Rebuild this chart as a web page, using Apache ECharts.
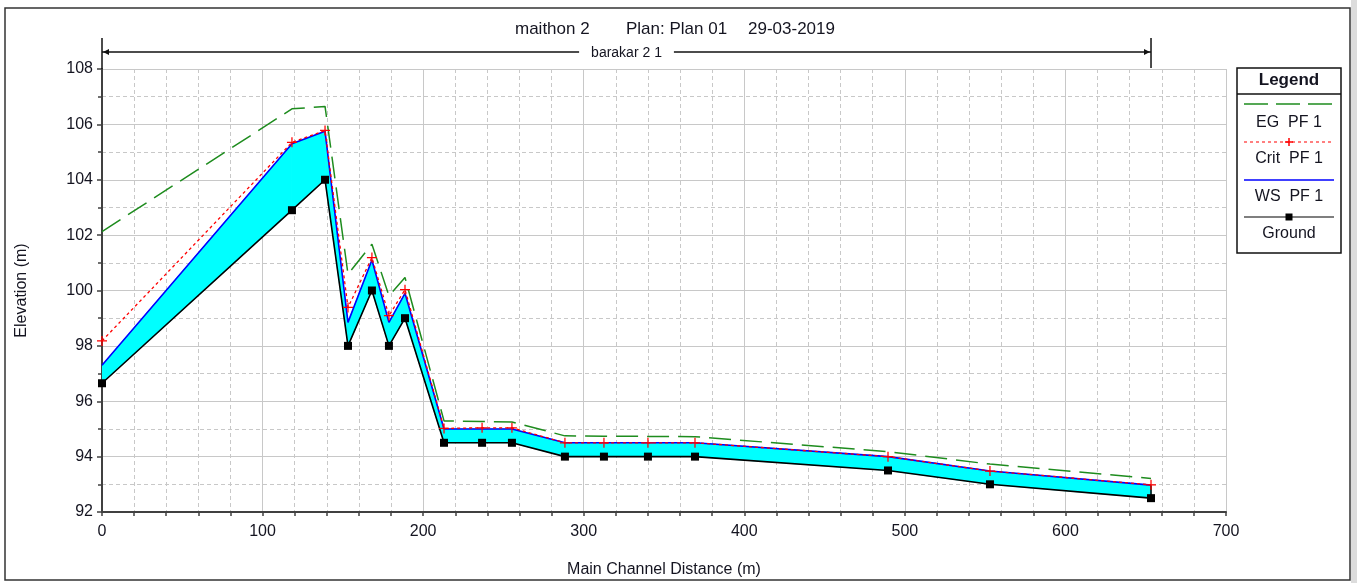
<!DOCTYPE html>
<html>
<head>
<meta charset="utf-8">
<script src="https://cdn.jsdelivr.net/npm/echarts@6/dist/echarts.min.js"></script>
<style>
  html, body { margin: 0; padding: 0; background: #fff; }
  #chart { width: 1357px; height: 583px; }
</style>
</head>
<body>
<div id="chart"></div>
<script>
// river stations (main channel distance, m)
const distance = [0, 118.3, 138.9, 153.2, 168.1, 178.7, 188.7, 213, 236.7, 255.3, 288.3, 312.6, 340, 369.3, 489.5, 553, 653.3]
// elevations (m)
const ground = [96.65, 102.9, 104.0, 98.0, 100.0, 98.0, 99.0, 94.5, 94.5, 94.5, 94.0, 94.0, 94.0, 94.0, 93.5, 93.0, 92.5]
const wsPF1 = [97.3, 105.3, 105.75, 98.85, 101.1, 98.85, 99.9, 95.0, 95.0, 95.0, 94.5, 94.5, 94.5, 94.5, 94.0, 93.48, 92.97]
const critPF1 = [98.18, 105.35, 105.78, 99.39, 101.19, 99.09, 100.03, 95.02, 95.04, 95.04, 94.5, 94.5, 94.5, 94.5, 94.0, 93.48, 92.98]
const egPF1 = [102.13, 106.56, 106.65, 100.59, 101.67, 99.81, 100.47, 95.29, 95.27, 95.25, 94.75, 94.74, 94.73, 94.72, 94.18, 93.73, 93.21]
const xTicks = [0, 100, 200, 300, 400, 500, 600, 700]
const yTicks = [92, 94, 96, 98, 100, 102, 104, 106, 108]

const FONT = '"Liberation Sans", Arial, sans-serif'
const TXT = '#141420'
const plus = 'path://M5.25,0H6.75V5.25H12V6.75H6.75V12H5.25V6.75H0V5.25H5.25Z'

const pairs = arr => distance.map((d, i) => [d, arr[i]])
const last = distance.length - 1
// one water-filled panel between two neighbouring stations
const panels = distance.slice(0, last).map((d, i) => [d, ground[i], wsPF1[i], distance[i + 1], ground[i + 1], wsPF1[i + 1]])

let myChart = echarts.init(document.getElementById('chart'), null, { renderer: 'canvas' })

let option = {
  animation: false,
  backgroundColor: '#fff',
  grid: { left: 102, top: 69, right: 131, bottom: 69, containLabel: false },
  xAxis: {
    type: 'value',
    min: xTicks[0],
    max: xTicks[xTicks.length - 1],
    interval: 100,
    name: 'Main Channel Distance (m)',
    nameLocation: 'middle',
    nameGap: 50,
    nameTextStyle: { fontFamily: FONT, fontSize: 16, color: TXT },
    axisLine: { show: true, onZero: false, lineStyle: { color: '#404040', width: 2 } },
    axisTick: { show: true, length: 4, lineStyle: { color: '#404040', width: 1.5 } },
    minorTick: { show: true, splitNumber: 5, length: 4, lineStyle: { color: '#404040', width: 1.5 } },
    axisLabel: { fontFamily: FONT, fontSize: 16, color: TXT, margin: 12 },
    splitLine: { show: true, lineStyle: { color: '#c8c8c8', width: 1 } },
    minorSplitLine: { show: true, lineStyle: { color: '#c8c8c8', width: 1, type: [4, 3] } }
  },
  yAxis: {
    type: 'value',
    min: yTicks[0],
    max: yTicks[yTicks.length - 1],
    interval: 2,
    name: 'Elevation (m)',
    nameLocation: 'middle',
    nameGap: 72,
    nameTextStyle: { fontFamily: FONT, fontSize: 16, color: TXT },
    axisLine: { show: true, onZero: false, lineStyle: { color: '#404040', width: 2 } },
    axisTick: { show: true, length: 5, lineStyle: { color: '#404040', width: 1.5 } },
    minorTick: { show: true, splitNumber: 2, length: 4, lineStyle: { color: '#404040', width: 1.5 } },
    axisLabel: { fontFamily: FONT, fontSize: 16, color: TXT, margin: 9 },
    splitLine: { show: true, lineStyle: { color: '#c8c8c8', width: 1 } },
    minorSplitLine: { show: true, lineStyle: { color: '#c8c8c8', width: 1, type: [4, 3] } }
  },
  series: [
    {
      name: 'water',
      type: 'custom',
      data: panels,
      silent: true,
      clip: true,
      encode: { x: [0, 3], y: [1, 2, 4, 5] },
      renderItem: function (params, api) {
        const a = api.coord([api.value(0), api.value(1)])
        const b = api.coord([api.value(0), api.value(2)])
        const c = api.coord([api.value(3), api.value(5)])
        const d = api.coord([api.value(3), api.value(4)])
        return {
          type: 'polygon',
          shape: { points: [a, b, c, d] },
          style: { fill: '#00ffff', stroke: '#00ffff', lineWidth: 0.8 }
        }
      }
    },
    {
      name: 'EG  PF 1',
      type: 'line',
      data: pairs(egPF1),
      symbol: 'none',
      lineStyle: { color: '#1e8c1e', width: 1.5, type: [22, 9] }
    },
    {
      name: 'WS  PF 1',
      type: 'line',
      data: pairs(wsPF1),
      symbol: 'none',
      lineStyle: { color: '#0000ff', width: 1.6 }
    },
    {
      name: 'Crit  PF 1',
      type: 'line',
      data: pairs(critPF1),
      symbol: plus,
      symbolSize: 10,
      showAllSymbol: true,
      itemStyle: { color: '#ff0000' },
      lineStyle: { color: '#ff0000', width: 1.3, type: [3, 3] }
    },
    {
      name: 'Ground',
      type: 'line',
      data: pairs(ground),
      symbol: 'rect',
      symbolSize: 8,
      showAllSymbol: true,
      itemStyle: { color: '#000' },
      lineStyle: { color: '#000', width: 1.6 }
    },
    {
      name: 'end',
      type: 'line',
      data: [[distance[last], ground[last]], [distance[last], wsPF1[last]]],
      symbol: 'none',
      lineStyle: { color: '#000', width: 1.5 }
    }
  ]
}
myChart.setOption(option)

// reach arrow, titles, legend box
const xL = myChart.convertToPixel({ xAxisIndex: 0 }, distance[0])
const xR = myChart.convertToPixel({ xAxisIndex: 0 }, distance[last])
const arrowY = 52
const lgX = 1237, lgW = 104, lgCx = lgX + lgW / 2

const legendItems = [
  { y: 104, text: 'EG  PF 1', ty: 123, line: { stroke: '#1e8c1e', lineWidth: 1.5, lineDash: [24, 8] } },
  { y: 142, text: 'Crit  PF 1', ty: 159, line: { stroke: '#ff0000', lineWidth: 1.2, lineDash: [3, 3] }, mark: 'plus' },
  { y: 180, text: 'WS  PF 1', ty: 197, line: { stroke: '#0000ff', lineWidth: 1.5 } },
  { y: 217, text: 'Ground', ty: 234, line: { stroke: '#000', lineWidth: 1.2 }, mark: 'rect' }
]

let graphics = [
  { type: 'rect', shape: { x: 5, y: 8, width: 1345, height: 572 }, style: { fill: 'none', stroke: '#333', lineWidth: 1.5 }, z: 100 },
  { type: 'rect', shape: { x: 1351, y: 0, width: 6, height: 583 }, style: { fill: '#dcdcdc' }, z: 100 },
  { type: 'text', x: 515, y: 29, style: { text: 'maithon 2', font: '17px ' + FONT, fill: TXT, verticalAlign: 'middle' }, z: 100 },
  { type: 'text', x: 626, y: 29, style: { text: 'Plan: Plan 01', font: '17px ' + FONT, fill: TXT, verticalAlign: 'middle' }, z: 100 },
  { type: 'text', x: 748, y: 29, style: { text: '29-03-2019', font: '17px ' + FONT, fill: TXT, verticalAlign: 'middle' }, z: 100 },
  { type: 'line', shape: { x1: xL, y1: arrowY, x2: xR, y2: arrowY }, style: { stroke: '#111', lineWidth: 1.5 }, z: 100 },
  { type: 'line', shape: { x1: xL, y1: 38, x2: xL, y2: 69 }, style: { stroke: '#111', lineWidth: 1.5 }, z: 100 },
  { type: 'line', shape: { x1: xR, y1: 38, x2: xR, y2: 68 }, style: { stroke: '#111', lineWidth: 1.5 }, z: 100 },
  { type: 'polygon', shape: { points: [[xL + 1, arrowY], [xL + 7, arrowY - 3], [xL + 7, arrowY + 3]] }, style: { fill: '#111' }, z: 100 },
  { type: 'polygon', shape: { points: [[xR - 1, arrowY], [xR - 7, arrowY - 3], [xR - 7, arrowY + 3]] }, style: { fill: '#111' }, z: 100 },
  { type: 'text', x: (xL + xR) / 2, y: arrowY + 1, style: { text: 'barakar 2 1', font: '14px ' + FONT, fill: TXT, align: 'center', verticalAlign: 'middle', backgroundColor: '#fff', padding: [0, 12] }, z: 101 },
  { type: 'rect', shape: { x: lgX, y: 68, width: lgW, height: 185 }, style: { fill: '#fff', stroke: '#111', lineWidth: 1.5 }, z: 100 },
  { type: 'line', shape: { x1: lgX, y1: 94, x2: lgX + lgW, y2: 94 }, style: { stroke: '#111', lineWidth: 1.5 }, z: 101 },
  { type: 'text', x: lgCx, y: 80, style: { text: 'Legend', font: 'bold 17px ' + FONT, fill: TXT, align: 'center', verticalAlign: 'middle' }, z: 101 }
]
legendItems.forEach(it => {
  graphics.push({ type: 'line', shape: { x1: 1244, y1: it.y, x2: 1334, y2: it.y }, style: Object.assign({}, it.line), z: 101 })
  graphics.push({ type: 'text', x: lgCx, y: it.ty, style: { text: it.text, font: '16px ' + FONT, fill: TXT, align: 'center', verticalAlign: 'middle' }, z: 101 })
  if (it.mark === 'plus') {
    graphics.push({ type: 'line', shape: { x1: lgCx - 4, y1: it.y, x2: lgCx + 4, y2: it.y }, style: { stroke: '#ff0000', lineWidth: 1.5 }, z: 102 })
    graphics.push({ type: 'line', shape: { x1: lgCx, y1: it.y - 4, x2: lgCx, y2: it.y + 4 }, style: { stroke: '#ff0000', lineWidth: 1.5 }, z: 102 })
  }
  if (it.mark === 'rect') {
    graphics.push({ type: 'rect', shape: { x: lgCx - 3.5, y: it.y - 3.5, width: 7, height: 7 }, style: { fill: '#000' }, z: 102 })
  }
})
myChart.setOption({ graphic: graphics })

window.onresize = function () {
  myChart.resize()
}
</script>
</body>
</html>
